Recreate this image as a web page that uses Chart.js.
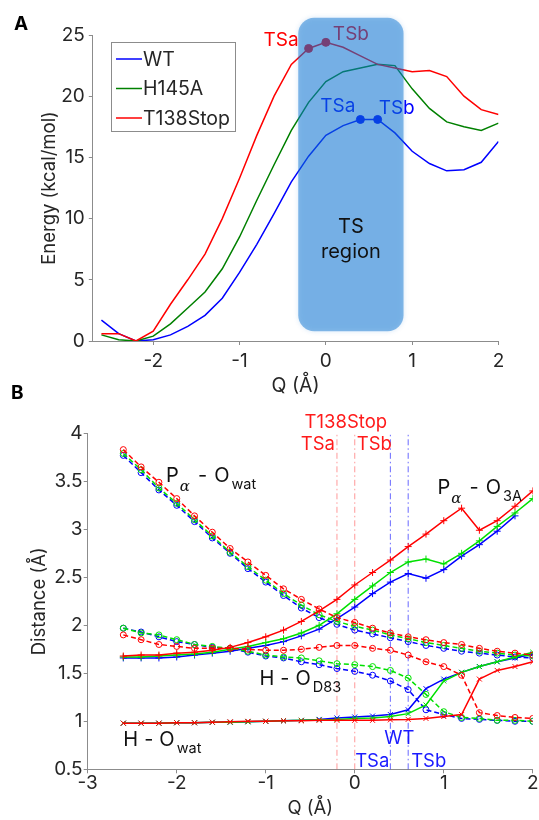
<!DOCTYPE html>
<html lang="en">
<head>
<meta charset="UTF-8">
<title>Energy and distance profiles along Q</title>
<script src="https://cdn.jsdelivr.net/npm/chart.js"></script>
<style>
  body { margin: 0; background: #fff; }
  .panel { position: absolute; left: 0; }
  #panelA { top: 0; }
  #panelB { top: 400px; }
</style>
</head>
<body>
<canvas id="panelA" class="panel" width="539" height="400"></canvas>
<canvas id="panelB" class="panel" width="539" height="420"></canvas>
<script>
// ---------- panel A : energy profiles ----------
const qA = [-2.6, -2.4, -2.2, -2.0, -1.8, -1.6, -1.4, -1.2, -1.0, -0.8, -0.6, -0.4,
            -0.2, 0.0, 0.2, 0.4, 0.6, 0.8, 1.0, 1.2, 1.4, 1.6, 1.8, 2.0];
const energyWT = [1.7, 0.6, 0.0, 0.1, 0.5, 1.2, 2.1, 3.5, 5.6, 7.9, 10.4, 13.0,
                  15.1, 16.8, 17.6, 18.1, 18.1, 17.0, 15.5, 14.5, 13.9, 14.0, 14.6, 16.3];
const energyH145A = [0.5, 0.1, 0.0, 0.4, 1.4, 2.7, 4.0, 5.9, 8.5, 11.5, 14.4, 17.2,
                     19.5, 21.2, 22.0, 22.3, 22.6, 22.5, 20.6, 19.0, 17.9, 17.5, 17.2, 17.8];
const energyT138Stop = [0.6, 0.6, 0.0, 0.8, 3.0, 5.0, 7.1, 10.0, 13.3, 16.8, 20.0, 22.6,
                        23.9, 24.4, 24.0, 23.3, 22.6, 22.3, 22.0, 22.1, 21.6, 20.0, 18.9, 18.5];
const tsQ_T138Stop = [-0.2, 0.0];
const tsE_T138Stop = [23.9, 24.4];
const tsQ_WT = [0.4, 0.6];
const tsE_WT = [18.1, 18.1];
const xTicksA = [-2, -1, 0, 1, 2];
const yTicksA = [0, 5, 10, 15, 20, 25];
const tsRegion = { qFrom: -0.32, qTo: 0.9, eFrom: 0.8, eTo: 26.4 };

// ---------- panel B : distances ----------
const qB = [-2.6, -2.4, -2.2, -2.0, -1.8, -1.6, -1.4, -1.2, -1.0, -0.8, -0.6, -0.4,
            -0.2, 0.0, 0.2, 0.4, 0.6, 0.8, 1.0, 1.2, 1.4, 1.6, 1.8, 2.0];
// P_alpha - O_wat (dashed)
const pOwatWT    = [3.77, 3.59, 3.41, 3.25, 3.08, 2.91, 2.75, 2.59, 2.45, 2.31, 2.18, 2.08,
                    2.01, 1.95, 1.91, 1.87, 1.83, 1.79, 1.76, 1.73, 1.71, 1.69, 1.67, 1.66];
const pOwatH145A = [3.79, 3.62, 3.43, 3.27, 3.10, 2.93, 2.76, 2.61, 2.47, 2.33, 2.21, 2.11,
                    2.04, 1.99, 1.95, 1.90, 1.86, 1.82, 1.79, 1.76, 1.73, 1.71, 1.69, 1.68];
const pOwatT138  = [3.83, 3.65, 3.49, 3.32, 3.14, 2.97, 2.80, 2.66, 2.52, 2.38, 2.27, 2.17,
                    2.08, 2.03, 1.97, 1.92, 1.88, 1.85, 1.82, 1.80, 1.76, 1.73, 1.71, 1.69];
// P_alpha - O_3A (solid, +)
const pO3aWT    = [1.66, 1.66, 1.66, 1.67, 1.69, 1.71, 1.73, 1.76, 1.79, 1.83, 1.89, 1.96,
                   2.07, 2.19, 2.33, 2.45, 2.54, 2.49, 2.58, 2.72, 2.84, 2.98, 3.14, null];
const pO3aH145A = [1.67, 1.67, 1.68, 1.69, 1.70, 1.72, 1.75, 1.78, 1.82, 1.86, 1.92, 2.00,
                   2.12, 2.27, 2.41, 2.55, 2.66, 2.69, 2.64, 2.75, 2.88, 3.03, 3.17, 3.32];
const pO3aT138  = [1.68, 1.69, 1.69, 1.71, 1.72, 1.74, 1.77, 1.82, 1.88, 1.95, 2.04, 2.15,
                   2.27, 2.42, 2.55, 2.68, 2.82, 2.95, 3.09, 3.22, 2.99, 3.09, 3.24, 3.40];
// H - O_D83 (dashed, o)
const hOd83WT    = [1.97, 1.93, 1.88, 1.83, 1.80, 1.77, 1.76, 1.72, 1.68, 1.66, 1.62, 1.59,
                    1.55, 1.52, 1.48, 1.42, 1.33, 1.12, 1.07, 1.03, 1.02, 1.01, 1.00, 1.00];
const hOd83H145A = [1.97, 1.92, 1.90, 1.85, 1.80, 1.78, 1.76, 1.73, 1.69, 1.67, 1.66, 1.63,
                    1.60, 1.59, 1.57, 1.53, 1.45, 1.28, 1.10, 1.04, 1.03, 1.01, 1.01, 1.00];
const hOd83T138  = [1.90, 1.85, 1.80, 1.78, 1.76, 1.76, 1.76, 1.75, 1.74, 1.74, 1.75, 1.77,
                    1.79, 1.79, 1.76, 1.74, 1.69, 1.62, 1.57, 1.48, 1.09, 1.06, 1.04, 1.03];
// H - O_wat (solid, x)
const hOwatWT    = [0.98, 0.98, 0.98, 0.985, 0.985, 0.99, 0.99, 0.995, 1.0, 1.005, 1.01, 1.02,
                    1.035, 1.045, 1.055, 1.07, 1.12, 1.34, 1.44, 1.51, 1.57, 1.62, 1.66, 1.70];
const hOwatH145A = [0.98, 0.98, 0.98, 0.985, 0.985, 0.99, 0.99, 0.995, 1.0, 1.005, 1.01, 1.015,
                    1.02, 1.03, 1.035, 1.05, 1.08, 1.17, 1.42, 1.51, 1.57, 1.62, 1.67, 1.72];
const hOwatT138  = [0.98, 0.98, 0.98, 0.985, 0.985, 0.99, 0.995, 1.0, 1.0, 1.005, 1.005, 1.01,
                    1.01, 1.01, 1.01, 1.015, 1.02, 1.03, 1.05, 1.07, 1.44, 1.53, 1.57, 1.62];
const tsLinesT138Stop = [-0.2, 0.0];
const tsLinesWT = [0.4, 0.6];
const xTicksB = [-3, -2, -1, 0, 1, 2];
const yTicksB = [0.5, 1, 1.5, 2, 2.5, 3, 3.5, 4];

const FONT = 'Inter, "Liberation Sans", Arial, sans-serif';
const TXT = '#262626';
const AXIS = '#8c8c8c';
Chart.defaults.font.family = FONT;
Chart.defaults.color = TXT;

function pts(xs, ys) {
  return xs.map((x, i) => ({ x: x, y: ys[i] })).filter(p => p.y !== null);
}

function axisStyle(ticks, size, pad, fit) {
  return {
    type: 'linear',
    afterBuildTicks: s => { s.ticks = ticks.map(v => ({ value: v })); },
    afterFit: fit,
    grid: { drawOnChartArea: false, drawTicks: true, tickLength: 4, color: AXIS },
    border: { color: AXIS, width: 1 },
    ticks: { padding: pad, font: { size: size }, color: TXT, callback: v => String(v) }
  };
}

// rich text with subscripts, left aligned, vertical middle
function drawRich(ctx, x, y, parts) {
  let cx = x;
  parts.forEach(p => {
    ctx.font = p.font;
    ctx.fillText(p.t, cx, y + (p.dy || 0));
    cx += ctx.measureText(p.t).width + (p.gap || 0);
  });
}

// ---------- panel A ----------
const annotA = {
  id: 'annotA',
  afterDatasetsDraw(chart) {
    const { ctx, scales: { x, y } } = chart;
    ctx.save();
    ctx.textBaseline = 'middle';
    ctx.font = '19px ' + FONT;
    ctx.fillStyle = '#ff0000';
    ctx.textAlign = 'right';
    ctx.fillText('TSa', x.getPixelForValue(tsQ_T138Stop[0]) - 10, y.getPixelForValue(tsE_T138Stop[0]) - 8);
    ctx.textAlign = 'left';
    ctx.fillText('TSb', x.getPixelForValue(tsQ_T138Stop[1]) + 7, y.getPixelForValue(tsE_T138Stop[1]) - 8);
    ctx.fillStyle = '#0000ff';
    ctx.textAlign = 'right';
    ctx.fillText('TSa', x.getPixelForValue(tsQ_WT[0]) - 5, y.getPixelForValue(tsE_WT[0]) - 13);
    ctx.textAlign = 'left';
    ctx.fillText('TSb', x.getPixelForValue(tsQ_WT[1]) + 1, y.getPixelForValue(tsE_WT[1]) - 11);

    // translucent TS region box over the curves
    const l = x.getPixelForValue(tsRegion.qFrom), r = x.getPixelForValue(tsRegion.qTo);
    const t = y.getPixelForValue(tsRegion.eTo), b = y.getPixelForValue(tsRegion.eFrom);
    ctx.fillStyle = 'rgba(10, 114, 210, 0.48)';
    ctx.shadowColor = 'rgba(10, 114, 210, 0.35)';
    ctx.shadowBlur = 5;
    ctx.beginPath();
    ctx.roundRect(l, t, r - l, b - t, 16);
    ctx.fill();
    ctx.shadowBlur = 0;

    ctx.fillStyle = '#111';
    ctx.font = '20px ' + FONT;
    ctx.textAlign = 'center';
    const cy = y.getPixelForValue(8.3);
    ctx.fillText('TS', (l + r) / 2, cy - 12.5);
    ctx.fillText('region', (l + r) / 2, cy + 12.5);
    ctx.restore();
  },
  afterDraw(chart) {
    const ctx = chart.ctx;
    ctx.save();
    // legend box
    ctx.fillStyle = '#fff';
    ctx.strokeStyle = AXIS;
    ctx.lineWidth = 1;
    ctx.fillRect(111, 42, 124, 89);
    ctx.strokeRect(111.5, 42.5, 124, 89);
    const items = chart.data.datasets.filter(d => d.inLegend);
    ctx.textBaseline = 'middle';
    ctx.textAlign = 'left';
    ctx.font = '19.5px ' + FONT;
    items.forEach((d, i) => {
      const yy = 59 + i * 29.5;
      ctx.strokeStyle = d.borderColor;
      ctx.lineWidth = 1.5;
      ctx.beginPath();
      ctx.moveTo(116, yy);
      ctx.lineTo(142, yy);
      ctx.stroke();
      ctx.fillStyle = TXT;
      ctx.fillText(d.label, 143, yy + 1);
    });
    // panel letters
    ctx.fillStyle = '#000';
    ctx.font = 'bold 19px ' + FONT;
    ctx.fillText('A', 14, 24);
    ctx.fillText('B', 11, 393);
    ctx.restore();
  }
};

new Chart(document.getElementById('panelA'), {
  type: 'line',
  data: {
    datasets: [
      { label: 'WT', data: pts(qA, energyWT), borderColor: '#0000ff', order: 3, inLegend: true },
      { label: 'H145A', data: pts(qA, energyH145A), borderColor: '#008000', order: 2, inLegend: true },
      { label: 'T138Stop', data: pts(qA, energyT138Stop), borderColor: '#ff0000', order: 1, inLegend: true },
      { label: 'TS T138Stop', data: pts(tsQ_T138Stop, tsE_T138Stop), showLine: false, order: 0,
        pointRadius: 4, pointBackgroundColor: '#ff0000', pointBorderColor: '#ff0000' },
      { label: 'TS WT', data: pts(tsQ_WT, tsE_WT), showLine: false, order: 0,
        pointRadius: 4, pointBackgroundColor: '#0000ff', pointBorderColor: '#0000ff' }
    ]
  },
  options: {
    animation: false,
    responsive: false,
    devicePixelRatio: 1,
    layout: { padding: { left: 0, top: 35, right: 40.5, bottom: 0 } },
    plugins: { legend: { display: false }, tooltip: { enabled: false } },
    elements: { point: { radius: 0 }, line: { borderWidth: 1.5, tension: 0 } },
    scales: {
      x: Object.assign(axisStyle(xTicksA, 19, 4.5, s => { s.height = 59; }), {
        min: -2.7, max: 2,
        title: { display: true, text: 'Q (Å)', font: { size: 19.5 }, color: TXT, padding: { top: 0, bottom: 2 } }
      }),
      y: Object.assign(axisStyle(yTicksA, 19, 4, s => { s.width = 92.8; }), {
        min: 0, max: 25,
        title: { display: true, text: 'Energy (kcal/mol)', font: { size: 18.5 }, color: TXT, padding: { top: 38.7, bottom: 0 } }
      })
    }
  },
  plugins: [annotA]
});

// ---------- panel B ----------
const annotB = {
  id: 'annotB',
  beforeDatasetsDraw(chart) {
    const { ctx, scales: { x, y } } = chart;
    ctx.save();
    ctx.lineWidth = 1;
    ctx.setLineDash([6, 3, 1.5, 3]);
    const vline = (q, color) => {
      const px = x.getPixelForValue(q);
      ctx.strokeStyle = color;
      ctx.beginPath();
      ctx.moveTo(px, y.getPixelForValue(0.5));
      ctx.lineTo(px, y.getPixelForValue(4.0));
      ctx.stroke();
    };
    tsLinesT138Stop.forEach(q => vline(q, 'rgba(255, 70, 70, 0.55)'));
    tsLinesWT.forEach(q => vline(q, 'rgba(40, 40, 255, 0.7)'));
    ctx.restore();
  },
  afterDatasetsDraw(chart) {
    const { ctx, scales: { x, y } } = chart;
    ctx.save();
    ctx.textBaseline = 'middle';
    ctx.font = '18.5px ' + FONT;
    ctx.fillStyle = '#ff1a1a';
    ctx.textAlign = 'center';
    ctx.fillText('T138Stop', x.getPixelForValue(-0.1), y.getPixelForValue(4.11));
    ctx.textAlign = 'right';
    ctx.fillText('TSa', x.getPixelForValue(tsLinesT138Stop[0]) - 2, y.getPixelForValue(3.88));
    ctx.textAlign = 'left';
    ctx.fillText('TSb', x.getPixelForValue(tsLinesT138Stop[1]) + 2, y.getPixelForValue(3.88));
    ctx.fillStyle = '#1a1aff';
    ctx.textAlign = 'center';
    ctx.fillText('WT', x.getPixelForValue((tsLinesWT[0] + tsLinesWT[1]) / 2), y.getPixelForValue(0.826));
    ctx.textAlign = 'right';
    ctx.fillText('TSa', x.getPixelForValue(tsLinesWT[0]) - 1, y.getPixelForValue(0.586));
    ctx.textAlign = 'left';
    ctx.fillText('TSb', x.getPixelForValue(tsLinesWT[1]) + 3, y.getPixelForValue(0.586));

    // quantity labels
    ctx.fillStyle = '#111';
    const big = '20px ' + FONT, sub = '14.5px ' + FONT, greek = 'italic 15px "DejaVu Serif", "Liberation Serif", serif';
    drawRich(ctx, x.getPixelForValue(-2.12), y.getPixelForValue(3.555), [
      { t: 'P', font: big, gap: 1 }, { t: 'α', font: greek, dy: 11, gap: 8 },
      { t: '-', font: big, gap: 7 }, { t: 'O', font: big, gap: 2 }, { t: 'wat', font: sub, dy: 9 }
    ]);
    drawRich(ctx, x.getPixelForValue(0.93), y.getPixelForValue(3.43), [
      { t: 'P', font: big, gap: 1 }, { t: 'α', font: greek, dy: 11, gap: 8 },
      { t: '-', font: big, gap: 7 }, { t: 'O', font: big, gap: 2 }, { t: '3A', font: sub, dy: 9 }
    ]);
    drawRich(ctx, x.getPixelForValue(-1.07), y.getPixelForValue(1.44), [
      { t: 'H', font: big, gap: 6 }, { t: '-', font: big, gap: 6 },
      { t: 'O', font: big, gap: 2 }, { t: 'D83', font: sub, dy: 9 }
    ]);
    drawRich(ctx, x.getPixelForValue(-2.6), y.getPixelForValue(0.805), [
      { t: 'H', font: big, gap: 6 }, { t: '-', font: big, gap: 6 },
      { t: 'O', font: big, gap: 2 }, { t: 'wat', font: sub, dy: 9 }
    ]);
    ctx.restore();
  }
};

const COLORS = { WT: '#0000ff', H145A: '#00e000', T138Stop: '#ff0000' };
function seriesB(label, vals, color, kind, order) {
  const dashed = kind === 'pOwat' || kind === 'hOd83';
  const style = { pOwat: 'circle', hOd83: 'circle', pO3a: 'cross', hOwat: 'crossRot' }[kind];
  return {
    label: label, data: pts(qB, vals), order: order,
    borderColor: color, borderWidth: 1.5, borderDash: dashed ? [5, 3] : [],
    pointStyle: style, pointRadius: style === 'circle' ? 3 : 3.5, pointBorderWidth: 1,
    pointBorderColor: color, pointBackgroundColor: 'rgba(0,0,0,0)'
  };
}

new Chart(document.getElementById('panelB'), {
  type: 'line',
  data: {
    datasets: [
      seriesB('WT Pα-Owat', pOwatWT, COLORS.WT, 'pOwat', 3),
      seriesB('H145A Pα-Owat', pOwatH145A, COLORS.H145A, 'pOwat', 2),
      seriesB('T138Stop Pα-Owat', pOwatT138, COLORS.T138Stop, 'pOwat', 1),
      seriesB('WT Pα-O3A', pO3aWT, COLORS.WT, 'pO3a', 3),
      seriesB('H145A Pα-O3A', pO3aH145A, COLORS.H145A, 'pO3a', 2),
      seriesB('T138Stop Pα-O3A', pO3aT138, COLORS.T138Stop, 'pO3a', 1),
      seriesB('WT H-OD83', hOd83WT, COLORS.WT, 'hOd83', 3),
      seriesB('H145A H-OD83', hOd83H145A, COLORS.H145A, 'hOd83', 2),
      seriesB('T138Stop H-OD83', hOd83T138, COLORS.T138Stop, 'hOd83', 1),
      seriesB('WT H-Owat', hOwatWT, COLORS.WT, 'hOwat', 3),
      seriesB('H145A H-Owat', hOwatH145A, COLORS.H145A, 'hOwat', 2),
      seriesB('T138Stop H-Owat', hOwatT138, COLORS.T138Stop, 'hOwat', 1)
    ]
  },
  options: {
    animation: false,
    responsive: false,
    devicePixelRatio: 1,
    layout: { padding: { left: 0, top: 33.3, right: 6.2, bottom: 0 } },
    plugins: { legend: { display: false }, tooltip: { enabled: false } },
    elements: { line: { tension: 0 } },
    scales: {
      x: Object.assign(axisStyle(xTicksB, 19, -1, s => { s.height = 50.7; }), {
        min: -3, max: 2,
        title: { display: true, text: 'Q (Å)', font: { size: 18.5 }, color: TXT, padding: { top: 0, bottom: 0 } }
      }),
      y: Object.assign(axisStyle(yTicksB, 19, 1.2, s => { s.width = 87.7; }), {
        min: 0.5, max: 4,
        title: { display: true, text: 'Distance (Å)', font: { size: 18.5 }, color: TXT, padding: { top: 28.5, bottom: 0 } }
      })
    }
  },
  plugins: [annotB]
});
</script>
</body>
</html>
